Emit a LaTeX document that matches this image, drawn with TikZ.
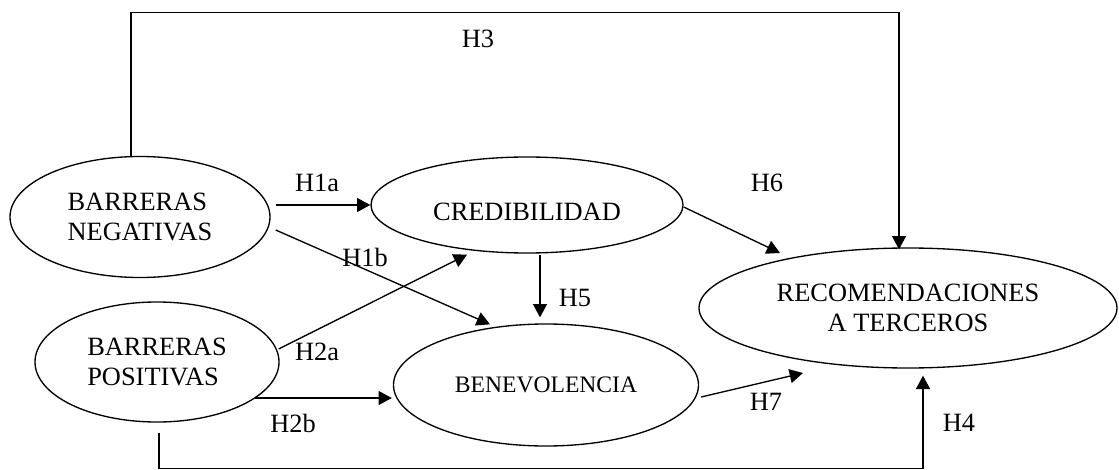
\documentclass[tikz,border=0pt]{standalone}
\usepackage{fontspec}
\setmainfont{Liberation Serif}
\usetikzlibrary{shapes.geometric, arrows.meta, calc}

\tikzset{
  construct/.style={draw, ellipse, line width=1pt, inner sep=0pt, align=left,
    font=\fontsize{19.8}{22.5}\selectfont},
  hyp/.style={font=\fontsize{19.8}{22.5}\selectfont, inner sep=0pt},
  arr/.style={line width=1pt, -{Triangle[length=10pt, width=10.5pt]}},
  link/.style={line width=1pt}
}

\begin{document}
\begin{tikzpicture}[x=0.75pt, y=-0.75pt]
  \useasboundingbox (0,0) rectangle (1119,470);

  % Constructs
  \node[construct, minimum width=195pt, minimum height=90.75pt] (neg) at (140,217) {BARRERAS\\NEGATIVAS};
  \node[construct, minimum width=183pt, minimum height=90pt] (pos) at (157,362) {BARRERAS\\POSITIVAS};
  \node[construct, minimum width=234pt, minimum height=72pt] (cred) at (527,205)
    {\raisebox{-5pt}[\height][\depth]{CREDIBILIDAD}};
  \node[construct, minimum width=228.75pt, minimum height=91.5pt,
    font=\fontsize{17.7}{21}\selectfont] (bene) at (546,385) {BENEVOLENCIA};
  \node[construct, minimum width=313.5pt, minimum height=90pt, align=center] (reco) at (908,308)
    {RECOMENDACIONES\\A TERCEROS};

  % Hypotheses
  \draw[arr] ($(neg.east |- cred.west)+(5,0)$) -- (cred.west);
  \draw[arr] ($(neg.east)+(5,13)$) -- ($(bene.north)+(-56,1)$);
  \draw[arr] ($(pos.east)+(-1,-13)$) -- ($(cred.south)+(-60,1)$);
  \draw[arr] ($(pos.center)+(98,36)$) -- ($(bene.west)+(-1,13)$);
  \draw[arr] ($(cred.south)+(13,1)$) -- ($(bene.north)+(-6,-6)$);
  \draw[arr] ($(cred.east)+(0,2)$) -- ($(reco.center)+(-128,-55)$);
  \draw[arr] ($(bene.east)+(2,12)$) -- ($(reco.center)+(-105,65)$);

  % Direct paths round the model
  \draw[arr] ($(neg.north)+(-9,0)$) -- ++(0,-143) -| ($(reco.north)+(-9,2)$);
  \draw[arr] ($(pos.south)+(2,10)$) -- ++(0,36) -| ($(reco.south)+(15,7)$);

  % Labels
  \node[hyp] (h1a) at (317,183) {H1a};
  \node[hyp] (h1b) at (365,257) {H1b};
  \node[hyp] (h2a) at (317,352) {H2a};
  \node[hyp] (h2b) at (293,423) {H2b};
  \node[hyp] (h3) at (478,39) {H3};
  \node[hyp] (h4) at (959,423) {H4};
  \node[hyp] (h5) at (575,298) {H5};
  \node[hyp] (h6) at (767,183) {H6};
  \node[hyp] (h7) at (766,402) {H7};
\end{tikzpicture}
\end{document}
